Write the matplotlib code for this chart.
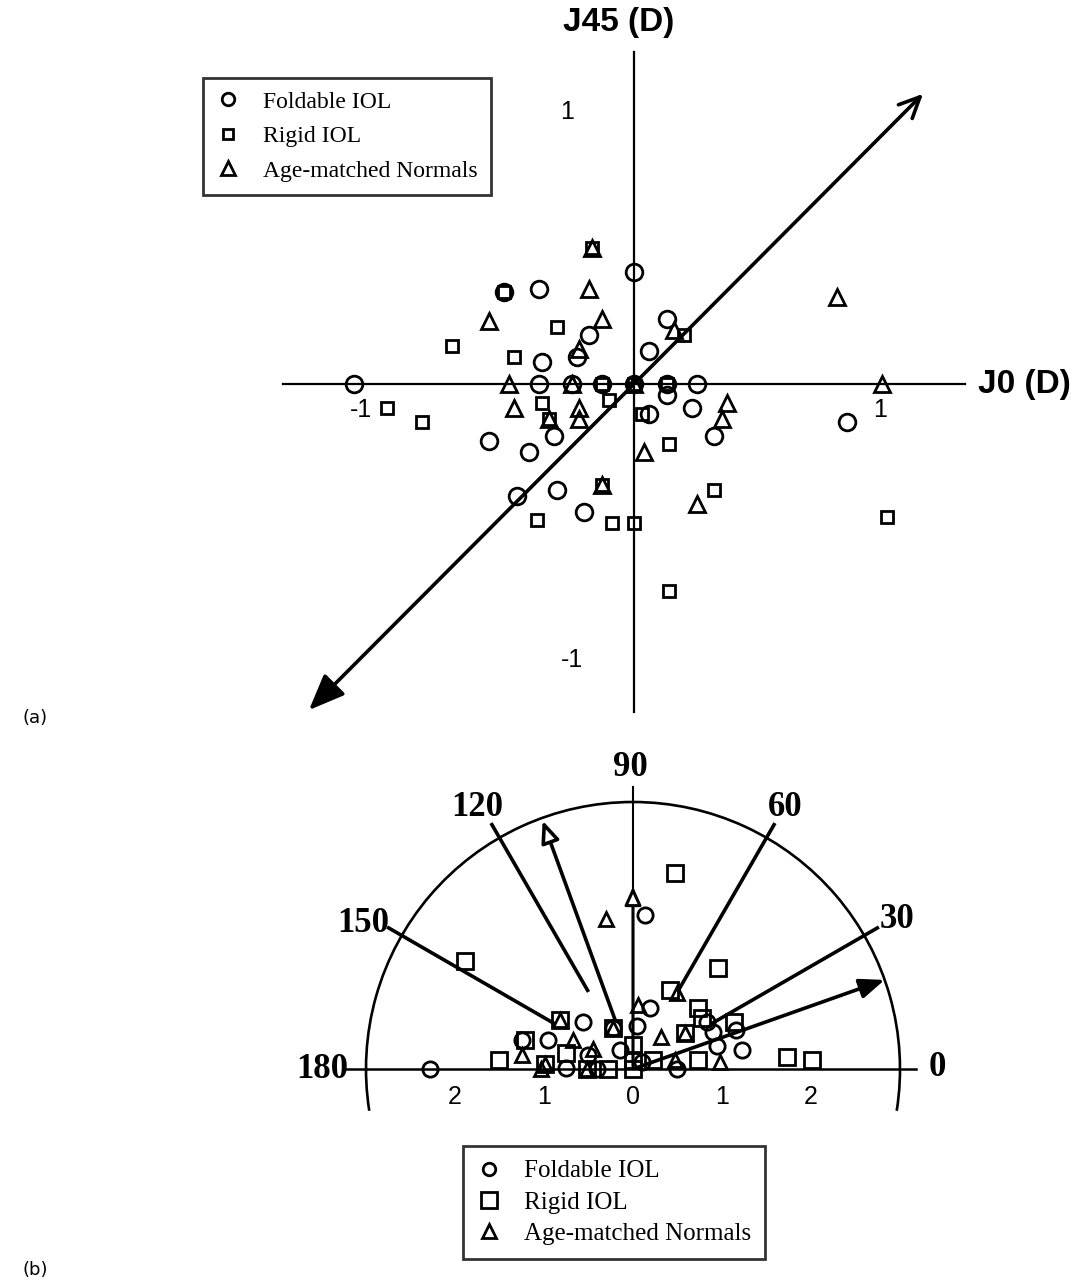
import numpy as np
import matplotlib.pyplot as plt
from matplotlib.lines import Line2D
from matplotlib.patches import Arc

# ---- panel (a): J0 / J45 vector plot (dioptres)
fold_a_x = [0, -0.52, -0.38, -0.18, -0.37, -0.23, 0.06, 0.13, -1.12, -0.38, -0.25, -0.13, 0,
            0.13, 0.13, 0.25, 0.23, 0.32, 0.85, 0.06, -0.32, -0.58, -0.42, -0.47, -0.31, -0.20]
fold_a_y = [0.41, 0.34, 0.35, 0.18, 0.08, 0.10, 0.12, 0.24, 0, 0, 0, 0, 0,
            0, -0.04, 0, -0.09, -0.19, -0.14, -0.11, -0.19, -0.21, -0.25, -0.41, -0.39, -0.47]
rigid_a_x = [-0.17, -0.52, -0.31, -0.73, -0.48, 0.20, -0.13, 0, 0.13, -0.99, -0.85, -0.37,
             -0.34, -0.10, 0.03, 0.14, -0.13, -0.39, -0.09, 0, 0.32, 1.01, 0.14]
rigid_a_y = [0.50, 0.34, 0.21, 0.14, 0.10, 0.18, 0, 0, 0, -0.09, -0.14, -0.07,
             -0.13, -0.06, -0.11, -0.22, -0.37, -0.50, -0.51, -0.51, -0.39, -0.49, -0.76]
norm_a_x = [-0.17, -0.18, -0.58, -0.13, -0.22, 0.16, -0.50, -0.25, 0, 0.99, 0.81, -0.48,
            -0.34, -0.22, -0.22, 0.04, 0.37, 0.35, -0.13, 0.25]
norm_a_y = [0.50, 0.35, 0.23, 0.24, 0.13, 0.20, 0, 0, 0, 0, 0.32, -0.09,
            -0.13, -0.09, -0.13, -0.25, -0.07, -0.13, -0.37, -0.44]

# ---- panel (b): half-polar plot (dioptres)
fold_b_x = [-2.28, -0.56, -0.22, -0.95, -0.50, -0.75, 0.04, -0.15, 0.19, 0.83, 0.90, 1.16,
            0.94, 1.22, 0.49, -1.25, 0.13, -0.40, 0.10]
fold_b_y = [0, 0.53, 0.46, 0.33, 0.16, 0.01, 0.48, 0.21, 0.69, 0.53, 0.42, 0.44,
            0.26, 0.21, 0, 0.33, 1.73, 0.0, 0.08]
rigid_b_x = [-1.51, -0.82, -1.21, -0.99, -0.75, -0.22, -0.28, -0.52, 0.95, 0.42, 0.73, 0.77,
             1.13, 0.58, 1.73, 2.01, 0.73, 0.23, 0, 0, 0, 0.47, -1.89]
rigid_b_y = [0.10, 0.55, 0.33, 0.06, 0.18, 0.46, 0, 0, 1.13, 0.89, 0.68, 0.57,
             0.53, 0.40, 0.14, 0.10, 0.10, 0.10, 0.10, 0.27, 0, 2.20, 1.21]
norm_b_x = [-0.82, -0.22, -1.25, -0.67, -0.99, -0.45, -0.52, 0.06, 0.49, 0.32, 0.58, 0.98,
            0.47, -0.30, -1.03]
norm_b_y = [0.55, 0.46, 0.16, 0.33, 0.06, 0.23, 0, 0.72, 0.85, 0.36, 0.40, 0.08,
            0.10, 1.69, 0]

angle_labels = ['180', '150', '120', '90', '60', '30', '0']
radial_ticks = [-2, -1, 0, 1, 2]

W, H = 1072, 1286
fig = plt.figure(figsize=(W / 100, H / 100), dpi=100)
serif = 'Liberation Serif'
sans = 'Liberation Sans'

# panel (a) axes: pixel rows 0..730, 1 unit = 250 px (x), 272 px (y), origin at (634, 384)
axa = fig.add_axes([0, 1 - 730 / H, 1, 730 / H])
axa.set_xlim((0 - 634) / 250, (W - 634) / 250)
axa.set_ylim((384 - 730) / 272, 384 / 272)
axa.set_axis_off()

axa.plot([-1.404, 1.324], [0, 0], color='black', lw=1.6)
axa.plot([0, 0], [-1.206, 1.221], color='black', lw=1.6)
axa.annotate('', xy=(1.164, 1.074), xytext=(0, 0),
             arrowprops=dict(arrowstyle='->,head_length=1.5,head_width=0.7', lw=2.6, color='black'))
axa.annotate('', xy=(-1.308, -1.206), xytext=(0, 0),
             arrowprops=dict(arrowstyle='-|>,head_length=2.2,head_width=0.9', lw=2.6, color='black'))

mk = dict(linestyle='none', color='black', mfc='none', mew=2.0)
axa.plot(fold_a_x, fold_a_y, marker='o', ms=12, **mk)
axa.plot(rigid_a_x, rigid_a_y, marker='s', ms=8, **mk)
axa.plot(norm_a_x, norm_a_y, marker='^', ms=11, **mk)

axa.text(-0.06, 1.33, 'J45 (D)', family=sans, fontweight='bold', fontsize=24, ha='center', va='center')
axa.text(1.375, 0, 'J0 (D)', family=sans, fontweight='bold', fontsize=24, ha='left', va='center')
axa.text(-0.268, 1.0, '1', family=sans, fontsize=18, ha='center', va='center')
axa.text(-0.248, -1.015, '-1', family=sans, fontsize=18, ha='center', va='center')
axa.text(0.984, -0.096, '1', family=sans, fontsize=18, ha='center', va='center')
axa.text(-1.092, -0.096, '-1', family=sans, fontsize=18, ha='center', va='center')

hs_a = [Line2D([], [], marker='o', ms=9, **mk),
        Line2D([], [], marker='s', ms=7, **mk),
        Line2D([], [], marker='^', ms=10, **mk)]
leg = axa.legend(hs_a, ['Foldable IOL', 'Rigid IOL', 'Age-matched Normals'],
                 loc='upper left', bbox_to_anchor=(203 / W, 1 - 78 / H), bbox_transform=fig.transFigure,
                 prop=dict(family=serif, size=17), frameon=True, fancybox=False,
                 edgecolor='black', handlelength=1.0, handletextpad=1.0, labelspacing=0.55,
                 borderpad=0.55, borderaxespad=0)
leg.get_frame().set_linewidth(2.0)

fig.text(22 / W, 1 - 718 / H, '(a)', fontsize=13, ha='left', va='center')

# panel (b) axes: pixel rows 730..1286, 1 unit = 89 px, origin at (633, 1069)
axb = fig.add_axes([0, 0, 1, (H - 730) / H])
axb.set_xlim((0 - 633) / 89, (W - 633) / 89)
axb.set_ylim((1069 - H) / 89, (1069 - 730) / 89)
axb.set_axis_off()

R = 3.0
axb.plot([(345 - 633) / 89, (916 - 633) / 89], [0, 0], color='black', lw=1.8)
axb.plot([0, 0], [0, 3.17], color='black', lw=1.5)
axb.add_patch(Arc((0, 0), 2 * R, 2 * R, theta1=-9, theta2=189, color='black', lw=1.9))

for ang in [150, 120, 60, 30]:
    t = np.radians(ang)
    axb.plot([1.02 * np.cos(t), 3.17 * np.cos(t)], [1.02 * np.sin(t), 3.17 * np.sin(t)],
             color='black', lw=2.6)

t = np.radians(110)
axb.annotate('', xy=(R * np.cos(t), R * np.sin(t)), xytext=(0.56 * np.cos(t), 0.56 * np.sin(t)),
             arrowprops=dict(arrowstyle='-|>,head_length=1.3,head_width=0.55', lw=2.6,
                             color='black', fc='white'))
axb.annotate('', xy=(0, 2.08), xytext=(0, 0),
             arrowprops=dict(arrowstyle='-|>,head_length=1.1,head_width=0.5', lw=2.2,
                             color='black', fc='white'))
t = np.radians(19.5)
axb.annotate('', xy=(3.03 * np.cos(t), 3.03 * np.sin(t)), xytext=(0, 0),
             arrowprops=dict(arrowstyle='-|>,head_length=1.5,head_width=0.6', lw=2.6, color='black'))

axb.plot(fold_b_x, fold_b_y, marker='o', ms=11, **mk)
axb.plot(rigid_b_x, rigid_b_y, marker='s', ms=11, **mk)
axb.plot(norm_b_x, norm_b_y, marker='^', ms=10, **mk)

lab_pos = [(322, 1070), (363, 923), (477, 807), (630, 768), (785, 807), (897, 920), (937, 1068)]
for lab, (px, py) in zip(angle_labels, lab_pos):
    axb.text((px - 633) / 89, (1069 - py) / 89, lab, family=serif, fontweight='bold',
             fontsize=25, ha='center', va='center')
for v in radial_ticks:
    axb.text(v, -0.32, str(abs(v)), family=sans, fontsize=18, ha='center', va='center')

hs_b = [Line2D([], [], marker='o', ms=9, **mk),
        Line2D([], [], marker='s', ms=11, **mk),
        Line2D([], [], marker='^', ms=10, **mk)]
leg = axb.legend(hs_b, ['Foldable IOL', 'Rigid IOL', 'Age-matched Normals'],
                 loc='upper left', bbox_to_anchor=(463 / W, 1 - 1146 / H), bbox_transform=fig.transFigure,
                 prop=dict(family=serif, size=18), frameon=True, fancybox=False,
                 edgecolor='black', handlelength=1.0, handletextpad=0.9, labelspacing=0.35,
                 borderpad=0.55, borderaxespad=0)
leg.get_frame().set_linewidth(2.0)

fig.text(22 / W, 1 - 1270 / H, '(b)', fontsize=13, ha='left', va='center')

fig.savefig('out.png', dpi=100)
